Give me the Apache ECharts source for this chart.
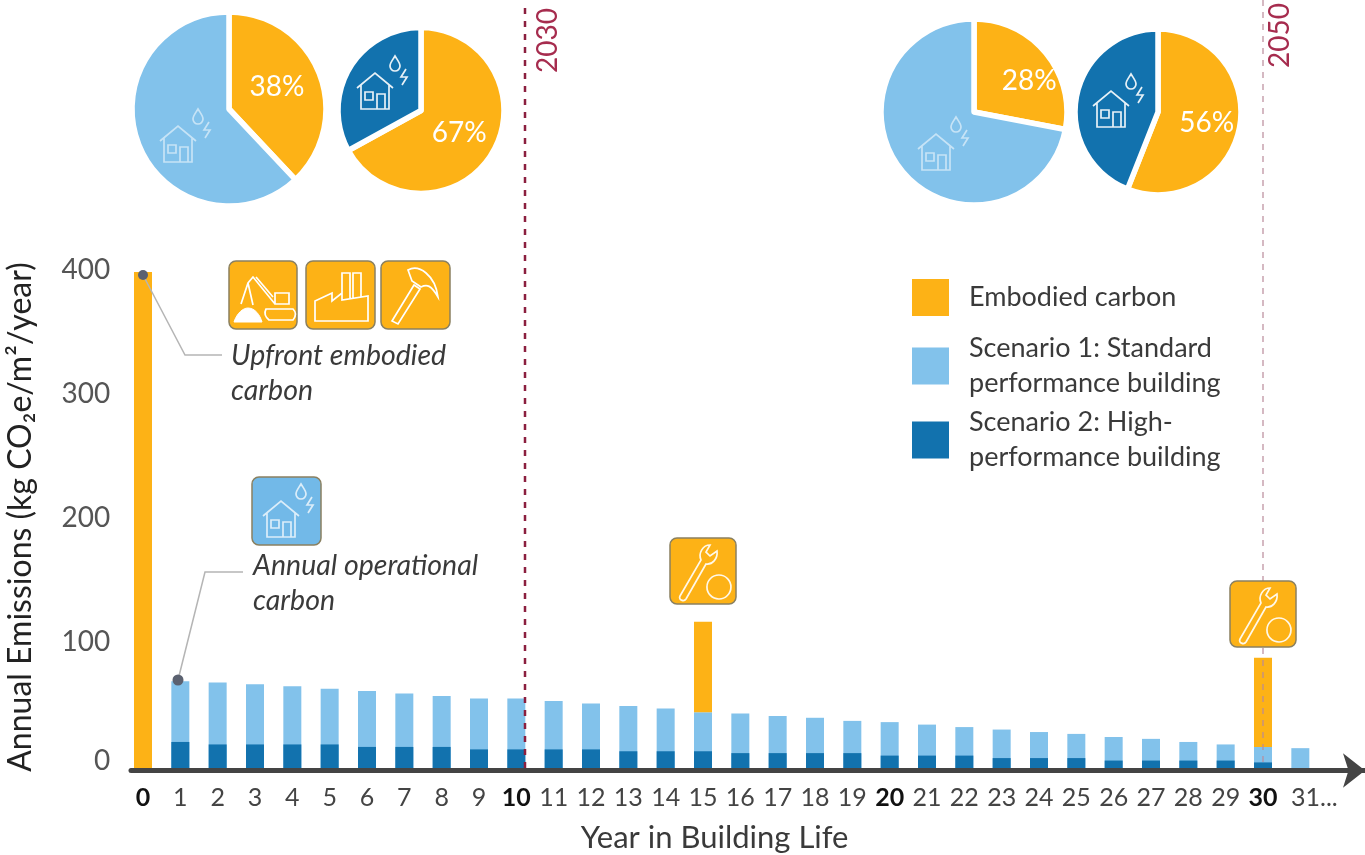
<!DOCTYPE html>
<html><head><meta charset="utf-8">
<script src="https://cdn.jsdelivr.net/npm/echarts@6/dist/echarts.min.js"></script>
<style>html,body{margin:0;padding:0;background:#fff}#c{width:1365px;height:855px}</style>
</head><body><div id="c"></div>
<script>
const years = ['0','1','2','3','4','5','6','7','8','9','10','11','12','13','14','15','16','17','18','19','20','21','22','23','24','25','26','27','28','29','30','31...'];
const embodied = [400,0,0,0,0,0,0,0,0,0,0,0,0,0,0,73,0,0,0,0,0,0,0,0,0,0,0,0,0,0,72,0];
const scenario1 = [0,70,69,67.5,66,64,62,60,58,56,56,54,52,50,48,45,44,42,40.5,38,37,35,33,31,29,27.5,25,23.5,21,19,17,16];
const scenario2 = [0,21,19,19,19,19,17,17,17,15,15,15,15,13.5,13.5,13.5,12,12,12,12,10,10,10,8,8,8,6,6,6,6,4.5,0];
const names = ['Embodied carbon','Scenario 1: Standard\nperformance building','Scenario 2: High-\nperformance building'];
const pie2030S1 = [38,62];
const pie2030S2 = [67,33];
const pie2050S1 = [28,72];
const pie2050S2 = [56,44];

const ORANGE='#FDB216', LIGHT='#82C2EB', DARK='#1272AE', FONT='Lato', TXT='#3a3a3a';
const chart = echarts.init(document.getElementById('c'),null,{renderer:'canvas'});

function pie(vals,other,cx,cy,r,dx,dy){
  return {type:'pie',center:[cx,cy],radius:[0,r],startAngle:90,clockwise:true,silent:true,
    itemStyle:{borderColor:'#fff',borderWidth:5.5},labelLine:{show:false},labelLayout:{dx:dx,dy:dy},
    label:{show:true,position:'inside',formatter:'{c}%',color:'#fff',fontFamily:FONT,fontSize:28},
    data:[{name:'Embodied',value:vals[0],itemStyle:{color:ORANGE}},
          {name:'Operational',value:vals[1],itemStyle:{color:other},label:{show:false}}]};
}
const PATHS={
 HOUSE:'M0 16L18 1L36 16M4 13V37H32V13M8 20H16V28H8ZM20 37V22H28V37',
 DROP:'M38 -16C35 -11 33 -9 33 -6A5 5 0 0 0 43 -6C43 -9 41 -11 38 -16Z',
 BOLT:'M49 -3L44 5H50L45 13',
 EXC:'M37 48H64Q69 53 64 59H40Q34 54 37 48ZM46 32H60V43H46ZM46 43L24 16L19 22L12 43M27 16L44 36M19 22L24 44',
 PILE:'M5 61C8 52 14 47 19 47C26 47 31 54 33 61Z',
 FACT:'M9 60V40L26 32V40L36 32V39L62 35V60ZM36 32V12H44V37M47 37V12H55V36',
 HAMMER:'M11 60L33 24L39 28L17 63ZM27 9C38 3 54 14 57 36C50 24 46 23 40 26L31 20L27 9Z',
 WRENCH:'M10 58L31 22C28 15 33 7 40 7L36 14L40 18L47 13C48 21 42 27 36 26L16 61C14 64 8 62 10 58Z',
 WCIRC:'M49 37A12 12 0 1 1 48.9 37Z'
};
Object.keys(PATHS).forEach(k=>echarts.graphic.registerShape('ico'+k,echarts.graphic.extendPath(PATHS[k],{})));
function icon(k,x,y,o,w,fill){return {type:'ico'+k,x:x,y:y,silent:true,z:21,
  style:{fill:fill||'none',stroke:'#fff',lineWidth:w||1.7,opacity:o||0.85}};}
function house(x,y,o){return [icon('HOUSE',x,y,o),icon('DROP',x,y,o),icon('BOLT',x,y,o)];}
function box(x,y,w,h,c,kids){return [{type:'rect',silent:true,z:20,shape:{x:x,y:y,width:w,height:h,r:7},
  style:{fill:c,stroke:'#8a8060',lineWidth:1.5}}].concat(kids);}
function T(text,x,y,size,extra){return {type:'text',silent:true,z:20,x:x,y:y,style:Object.assign({text:text,fontFamily:FONT,fontSize:size,fill:TXT},extra||{})};}
function L(pts,color,w,dash){return {type:'polyline',silent:true,z:20,shape:{points:pts},style:{fill:'none',stroke:color,lineWidth:w,lineDash:dash||null}};}
function D(x,y,r){return {type:'circle',silent:true,z:22,shape:{cx:x,cy:y,r:r},style:{fill:'#5b6170'}};}

const gfx=[].concat(
  [L([[525,8],[525,768]],'#8B1F3F',2.5,[6,7]), L([[1263,0],[1263,768]],'#B98A9A',1.2,[6,6])],
  [T('2030',534,73,28,{fill:'#A62C4E'}), T('2050',1266,68,28,{fill:'#A62C4E'})].map(t=>Object.assign(t,{rotation:Math.PI/2})),
  house(160,125,0.55),house(357,72,0.9),house(918,133,0.55),house(1093,90,0.9),
  box(229,261,68,68,ORANGE,[icon('EXC',229,261,1),icon('PILE',229,261,1,1,'#fff')]),
  box(306,261,69,68,ORANGE,[icon('FACT',306,261,1)]),
  box(381,261,69,68,ORANGE,[icon('HAMMER',381,261,1)]),
  box(252,477,69,68,'#72B9E8',house(263,500,0.75)),
  box(670,538,66,66,ORANGE,[icon('WRENCH',670,538,0.9),icon('WCIRC',670,538,0.9)]),
  box(1230,581,66,66,ORANGE,[icon('WRENCH',1230,581,0.9),icon('WCIRC',1230,581,0.9)]),
  [L([[143,275],[185,355],[222,355]],'#b5b5b5',1.5),D(143,275,5),
   L([[178,680],[205,572],[243,572]],'#b5b5b5',1.5),D(178,680,5.5)],
  [T('Upfront embodied\ncarbon',231,338,28.5,{fontStyle:'italic',lineHeight:35}),
   T('Annual operational\ncarbon',253,548,28.5,{fontStyle:'italic',lineHeight:35})]
);

function leg(i,top,pb){return {data:[names[i]],left:912,top:top,orient:'vertical',padding:0,itemWidth:37,itemHeight:37,itemGap:0,
  icon:'rect',selectedMode:false,textStyle:{fontFamily:FONT,fontSize:27,color:TXT,lineHeight:35,padding:[0,0,pb,15]}};}

chart.setOption({
  animation:false,backgroundColor:'#fff',
  grid:[{left:124.33,width:1194.67,top:272,height:496,outerBoundsMode:'none'},
        {left:131,right:0,top:770,height:0.5,outerBoundsMode:'none'}],
  legend:[leg(0,279,0),leg(1,323,16),leg(2,398,14)],
  xAxis:[{type:'category',data:years,gridIndex:0,axisLine:{show:false},axisTick:{show:false},splitLine:{show:false},
    axisLabel:{interval:0,margin:17,fontFamily:FONT,fontSize:25,color:'#444',hideOverlap:false,
      formatter:v=>/\.\.\.$/.test(v)?'{e|'+v+'}':(/^[0-9]*0$/.test(v)?'{b|'+v+'}':v),
      rich:{b:{fontFamily:FONT,fontSize:25,fontWeight:'bold',color:'#111'},
            e:{fontFamily:FONT,fontSize:25,color:'#444',padding:[0,0,0,28]}}},
    name:'Year in Building Life',nameLocation:'middle',nameGap:54,
    nameTextStyle:{fontFamily:FONT,fontSize:31,color:TXT,padding:[0,14,0,0]}},
    {type:'value',gridIndex:1,min:0,max:1,axisTick:{show:false},axisLabel:{show:false},splitLine:{show:false},
     axisLine:{show:true,symbol:['none','arrow'],symbolSize:[26,22],lineStyle:{color:'#444',width:5}}}],
  yAxis:[{type:'value',gridIndex:0,min:0,max:400,interval:100,axisLine:{show:false},axisTick:{show:false},splitLine:{show:false},
    axisLabel:{margin:14,fontFamily:FONT,fontSize:28,color:'#555',
      formatter:v=>v===0?'{z|0}':'{u|'+v+'}',
      rich:{z:{fontSize:28,fontFamily:FONT,color:'#555',padding:[0,0,14,0]},u:{fontSize:28,fontFamily:FONT,color:'#555',padding:[0,0,4,0]}}},
    name:'Annual Emissions (kg CO₂e/m²/year)',nameLocation:'middle',nameRotate:90,nameGap:74,
    nameTextStyle:{fontFamily:FONT,fontSize:32,color:'#222',padding:[0,0,14,6]}},
    {type:'value',gridIndex:1,min:0,max:1,show:false}],
  series:[
    {name:names[1],type:'bar',xAxisIndex:0,yAxisIndex:0,stack:'total',barWidth:18,data:scenario1,itemStyle:{color:LIGHT},silent:true},
    {name:names[0],type:'bar',xAxisIndex:0,yAxisIndex:0,stack:'total',barWidth:18,data:embodied,itemStyle:{color:ORANGE},silent:true},
    {name:names[2],type:'bar',xAxisIndex:0,yAxisIndex:0,barWidth:18,barGap:'-100%',data:scenario2,itemStyle:{color:DARK},silent:true},
    pie(pie2030S1,LIGHT,229,109,97,0,-3),
    pie(pie2030S2,DARK,421,110.5,83,0,0),
    pie(pie2050S1,LIGHT,974,112,93,17,1),
    pie(pie2050S2,DARK,1158,112,83,5,3)
  ],
  graphic:{elements:gfx}
});
</script></body></html>
